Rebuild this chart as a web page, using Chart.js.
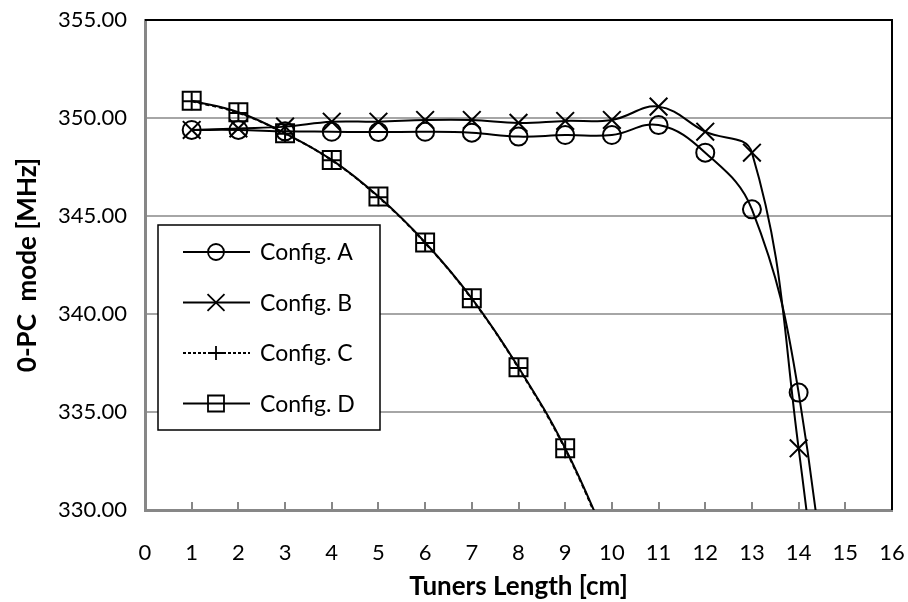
<!DOCTYPE html>
<html>
<head>
<meta charset="utf-8">
<script src="https://cdn.jsdelivr.net/npm/chart.js@4.4.1/dist/chart.umd.min.js"></script>
<style>
  html, body { margin: 0; padding: 0; background: #fff; }
  #wrap { width: 908px; height: 602px; }
</style>
</head>
<body>
<div id="wrap"><canvas id="freqChart" width="908" height="602"></canvas></div>
<script>
// Tuner length [cm] for every measured point
var tunerLength = [1, 2, 3, 4, 5, 6, 7, 8, 9, 10, 11, 12, 13, 14, 15];

// 0-PC mode frequency [MHz]
var configA = [349.39, 349.39, 349.32, 349.30, 349.28, 349.30, 349.25, 349.05, 349.13, 349.13, 349.64, 348.23, 345.34, 335.99, 316.0];
var configB = [349.39, 349.47, 349.56, 349.81, 349.81, 349.90, 349.90, 349.75, 349.85, 349.90, 350.58, 349.30, 348.23, 333.15, 312.0];
var configC = [350.85, 350.26, 349.20, 347.84, 345.96, 343.62, 340.76, 337.24, 333.10, 327.8];
var configD = [350.88, 350.29, 349.22, 347.86, 345.99, 343.65, 340.80, 337.28, 333.15, 327.9];

var seriesNames = ['Config. A', 'Config. B', 'Config. C', 'Config. D'];
var xTicks = [0, 16, 1];       // min, max, step
var yTicks = [330, 355, 5];    // min, max, step

var FONT = 'Lato, "Open Sans", sans-serif';
var GRID = '#a6a6a6';
var AXIS = '#878787';

function toPoints(values) {
  var pts = [];
  values.forEach(function(v, i) { pts.push({x: tunerLength[i], y: v}); });
  return pts;
}

// marker style per series (plot size / legend size)
var markers = [
  {pointStyle: 'circle', radius: 9, legendRadius: 8, dash: []},
  {pointStyle: 'crossRot', radius: 12.5, legendRadius: 12, dash: []},
  {pointStyle: 'cross', radius: 9, legendRadius: 7, dash: [4, 3]},
  {pointStyle: 'rect', radius: 12.7, legendRadius: 11.3, dash: []}
];
var seriesData = [configA, configB, configC, configD];

var datasets = seriesData.map(function(values, i) {
  return {
    label: seriesNames[i],
    data: toPoints(values),
    showLine: true,
    borderColor: '#000',
    borderWidth: 2,
    borderDash: markers[i].dash,
    tension: 0.4,
    pointStyle: markers[i].pointStyle,
    pointRadius: markers[i].radius,
    pointHoverRadius: markers[i].radius,
    pointBorderColor: '#000',
    pointBackgroundColor: 'rgba(0,0,0,0)',
    pointBorderWidth: 2
  };
});

// Plot frame (black top/right) and inner tick marks on the x axis
var framePlugin = {
  id: 'frame',
  beforeDatasetsDraw: function(chart) {
    var ctx = chart.ctx, a = chart.chartArea, xs = chart.scales.x;
    ctx.save();
    ctx.strokeStyle = '#000';
    ctx.lineWidth = 2;
    ctx.beginPath();
    ctx.moveTo(a.left, a.top);
    ctx.lineTo(a.right, a.top);
    ctx.lineTo(a.right, a.bottom);
    ctx.stroke();
    ctx.strokeStyle = AXIS;
    ctx.lineWidth = 2;
    for (var v = xTicks[0] + xTicks[2]; v < xTicks[1]; v += xTicks[2]) {
      var px = Math.round(xs.getPixelForValue(v));
      ctx.beginPath();
      ctx.moveTo(px, a.bottom);
      ctx.lineTo(px, a.bottom - 8);
      ctx.stroke();
    }
    ctx.restore();
  }
};

// Boxed legend inside the plot area, like the original
var legendPlugin = {
  id: 'boxLegend',
  afterDraw: function(chart) {
    var ctx = chart.ctx;
    var box = {x: 158, y: 225, w: 222, h: 205};
    ctx.save();
    ctx.fillStyle = '#fff';
    ctx.fillRect(box.x, box.y, box.w, box.h);
    ctx.strokeStyle = '#000';
    ctx.lineWidth = 1.5;
    ctx.strokeRect(box.x, box.y, box.w, box.h);
    chart.data.datasets.forEach(function(ds, i) {
      var y = box.y + 27 + i * 50.5;
      ctx.strokeStyle = '#000';
      ctx.lineWidth = 1.8;
      ctx.setLineDash(ds.borderDash.length ? [3, 2] : []);
      ctx.beginPath();
      ctx.moveTo(box.x + 25, y);
      ctx.lineTo(box.x + 92, y);
      ctx.stroke();
      ctx.setLineDash([]);
      ctx.fillStyle = 'rgba(0,0,0,0)';
      Chart.helpers.drawPoint(ctx, {
        pointStyle: ds.pointStyle,
        radius: markers[i].legendRadius,
        rotation: 0,
        borderWidth: 1.8
      }, box.x + 58, y);
      ctx.fillStyle = '#000';
      ctx.font = '23px ' + FONT;
      ctx.textAlign = 'left';
      ctx.textBaseline = 'middle';
      ctx.fillText(ds.label, box.x + 102, y + 1);
    });
    ctx.restore();
  }
};

new Chart(document.getElementById('freqChart'), {
  type: 'scatter',
  data: {datasets: datasets},
  plugins: [framePlugin, legendPlugin],
  options: {
    responsive: false,
    animation: false,
    layout: {padding: {top: 20, right: 16, left: 0, bottom: 0}},
    plugins: {
      legend: {display: false},
      tooltip: {enabled: false}
    },
    scales: {
      x: {
        type: 'linear',
        min: xTicks[0],
        max: xTicks[1],
        afterFit: function(scale) {
          scale.height = 92;
          scale.paddingLeft = 0;
          scale.paddingRight = 0;
        },
        ticks: {
          stepSize: xTicks[2],
          padding: 30,
          color: '#000',
          font: {family: FONT, size: 22}
        },
        grid: {drawOnChartArea: false, drawTicks: false},
        border: {color: AXIS, width: 3},
        title: {
          display: true,
          text: 'Tuners Length [cm]',
          color: '#000',
          font: {family: FONT, size: 26, weight: 'bold'},
          padding: {top: 0, bottom: 0}
        }
      },
      y: {
        type: 'linear',
        min: yTicks[0],
        max: yTicks[1],
        afterFit: function(scale) {
          scale.width = 145;
          scale.paddingTop = 0;
          scale.paddingBottom = 0;
        },
        ticks: {
          stepSize: yTicks[2],
          padding: 18,
          color: '#000',
          font: {family: FONT, size: 22},
          callback: function(v) { return v.toFixed(2); }
        },
        grid: {color: GRID, lineWidth: 2, drawTicks: false},
        border: {color: AXIS, width: 3},
        title: {
          display: true,
          text: '0-PC  mode [MHz]',
          color: '#000',
          font: {family: FONT, size: 26, weight: 'bold'},
          padding: {top: 12, bottom: 0}
        }
      }
    }
  }
});
</script>
</body>
</html>
